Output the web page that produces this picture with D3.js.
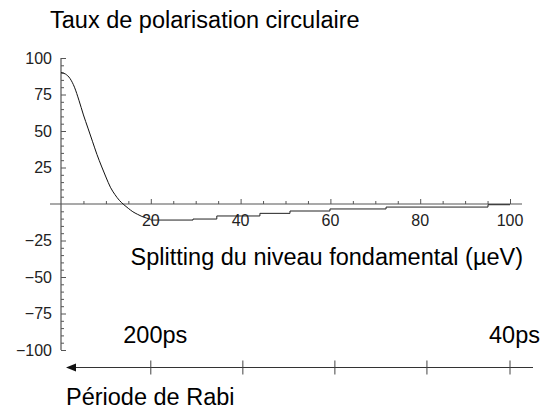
<!DOCTYPE html>
<html><head><meta charset="utf-8">
<script src="https://cdn.jsdelivr.net/npm/d3@7"></script>
<style>
html,body{margin:0;padding:0;background:#fff;}
text{font-family:"Liberation Sans",Arial,sans-serif;}
</style></head>
<body>
<svg id="c" width="542" height="412"></svg>
<script>
// ---- data ----
const smoothX = [0,1,2,3,4,5,6,7,8,9,10,11,12,13,14,15,16,17,18,19,20];
const smoothY = [90,89,86,80,71,61,52,43,34,26,18.5,11.5,6.5,2.5,-0.5,-3,-5.3,-7,-8.5,-9.6,-10.5];
const stepX = [20,29.4,34.7,44.3,51,59.9,72.4,95.1,100];
const stepY = [-11,-10.3,-8.2,-6.4,-4.8,-3.4,-2.1,-0.5,-0.5];
const xTickLabels = [20,40,60,80,100];
const yTickLabels = [100,75,50,25,-25,-50,-75,-100];
const rabiTicks = [20,40.5,61,81.5,100];
const rabiLabels = ["200ps","","","","40ps"];
const titleText = "Taux de polarisation circulaire";
const xTitle = "Splitting du niveau fondamental (\u00b5eV)";
const rabiTitle = "P\u00e9riode de Rabi";

const svg = d3.select("#c");
const x = d3.scaleLinear().domain([0,100]).range([61,510]);
const y = d3.scaleLinear().domain([-100,100]).range([350,58]);
const axisColor = "#555";

// x axis line
svg.append("line").attr("x1", x(0)-11).attr("x2", x(100)+12)
  .attr("y1", y(0)).attr("y2", y(0)).attr("stroke", axisColor).attr("stroke-width",1.2);
// y axis line
svg.append("line").attr("x1", x(0)).attr("x2", x(0))
  .attr("y1", y(100)).attr("y2", y(-100)).attr("stroke", axisColor).attr("stroke-width",1.2);

// x ticks
const gx = svg.append("g").attr("transform",`translate(0,${y(0)})`);
gx.call(d3.axisTop(x).tickValues(d3.range(5,101,5).filter(v=>v%20)).tickSize(3).tickFormat(""));
gx.append("g").call(d3.axisTop(x).tickValues(xTickLabels).tickSize(5).tickFormat(""));
gx.selectAll(".domain").remove();
gx.selectAll("line").attr("stroke", axisColor);

// y ticks
const gy = svg.append("g").attr("transform",`translate(${x(0)},0)`);
gy.call(d3.axisRight(y).tickValues(d3.range(-100,101,5).filter(v=>v%25 && v!==0)).tickSize(3).tickFormat(""));
gy.append("g").call(d3.axisRight(y).tickValues(yTickLabels).tickSize(5).tickFormat(""));
gy.selectAll(".domain").remove();
gy.selectAll("line").attr("stroke", axisColor);

// curve
svg.append("path").datum(smoothX.map((v,i)=>[v,smoothY[i]]))
  .attr("d", d3.line().x(d=>x(d[0])).y(d=>y(d[1])).curve(d3.curveMonotoneX))
  .attr("fill","none").attr("stroke","#111").attr("stroke-width",1);
svg.append("path").datum(stepX.map((v,i)=>[v,stepY[i]]))
  .attr("d", d3.line().x(d=>x(d[0])).y(d=>y(d[1])).curve(d3.curveStepAfter))
  .attr("fill","none").attr("stroke","#222").attr("stroke-width",1);

// tick labels
svg.append("g").selectAll("text").data(xTickLabels).join("text")
  .attr("x", d=>x(d)).attr("y", y(0)+22).attr("text-anchor","middle")
  .attr("font-size",16).attr("fill","#222").text(d=>d);
svg.append("g").selectAll("text").data(yTickLabels).join("text")
  .attr("x", x(0)-9).attr("y", d=>y(d)+5.5).attr("text-anchor","end")
  .attr("font-size",16).attr("fill","#222").text(d=>String(d).replace("-","\u2212"));

// titles
svg.append("text").attr("x",50).attr("y",28).attr("font-size",23.5).text(titleText);
svg.append("text").attr("x",523).attr("y",265).attr("text-anchor","end").attr("font-size",23.5).text(xTitle);

// Rabi axis
const ry = 367.5;
svg.append("line").attr("x1", x(0)+10).attr("x2", x(100)+23).attr("y1", ry).attr("y2", ry)
  .attr("stroke", "#333").attr("stroke-width",1.2);
svg.append("path").attr("d", d3.line()([[x(0)+5,ry],[x(0)+15,ry-4],[x(0)+15,ry+4]])+"Z").attr("fill","#111");
svg.append("g").selectAll("line").data(rabiTicks).join("line")
  .attr("x1", d=>x(d)).attr("x2", d=>x(d)).attr("y1", ry-7).attr("y2", ry+7)
  .attr("stroke","#444").attr("stroke-width",1);
svg.append("g").selectAll("text").data(rabiTicks).join("text")
  .attr("x", d=>x(d)+4.5).attr("y", 343).attr("text-anchor","middle")
  .attr("font-size",23.5).text((d,i)=>rabiLabels[i]);
svg.append("text").attr("x",66).attr("y",405).attr("font-size",23.5).text(rabiTitle);
</script>
</body></html>
